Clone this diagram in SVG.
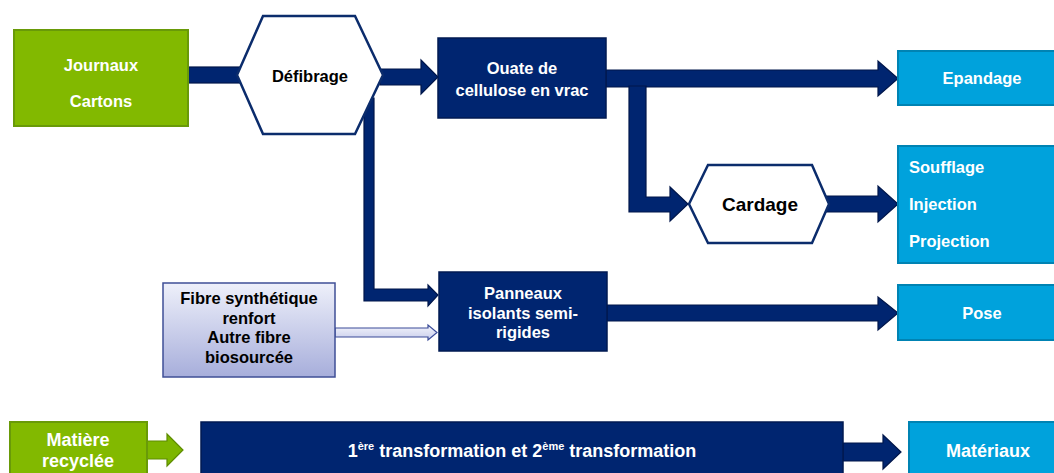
<svg xmlns="http://www.w3.org/2000/svg" width="1054" height="473" viewBox="0 0 1054 473">
<defs>
<linearGradient id="fibreGrad" x1="0" y1="0" x2="0" y2="1">
<stop offset="0" stop-color="#eef0fa"/>
<stop offset="1" stop-color="#a7aedb"/>
</linearGradient>
<linearGradient id="hollowGrad" x1="0" y1="0" x2="0" y2="1">
<stop offset="0" stop-color="#f4f5fc"/>
<stop offset="1" stop-color="#c8cdeb"/>
</linearGradient>
<style>
.t{font-family:"Liberation Sans",Arial,sans-serif;font-weight:bold;font-size:16.5px}
.w{fill:#ffffff}
.k{fill:#000000}
.navy{fill:#002570;stroke:#001a52;stroke-width:1.5}
.blue{fill:#00a2dc;stroke:#0083b3;stroke-width:2}
.green{fill:#82b900;stroke:#699a08;stroke-width:2}
.hex{fill:#ffffff;stroke:#0b2c6c;stroke-width:2.5}
.arr{fill:#002570;stroke:#00164a;stroke-width:1.2}
.garr{fill:#7db600;stroke:#5e8c00;stroke-width:1.2}
.harr{fill:url(#hollowGrad);stroke:#3a4b98;stroke-width:1.2}
</style>
</defs>
<rect width="1054" height="473" fill="#ffffff"/>

<g id="connectors">
<!-- Journaux -> Défibrage -->
<rect class="arr" x="188" y="67" width="52" height="16"/>
<!-- Défibrage -> Ouate -->
<path class="arr" d="M380,69 L421,69 L421,60 L438,77 L421,94 L421,85 L380,85 Z"/>
<!-- Défibrage -> Panneaux -->
<path class="arr" d="M364,98 L374,98 L374,289 L428,289 L428,285 L438,295 L428,306 L428,301 L364,301 Z"/>
<!-- Ouate -> Epandage -->
<path class="arr" d="M606,70 L878,70 L878,61 L898,78.5 L878,96 L878,87 L606,87 Z"/>
<!-- Ouate -> Cardage -->
<path class="arr" d="M629,86 L646,86 L646,197 L670,197 L670,187 L688,204 L670,221 L670,212 L629,212 Z"/>
<!-- Cardage -> Soufflage -->
<path class="arr" d="M826,196 L878,196 L878,186 L898,204 L878,222 L878,212 L826,212 Z"/>
<!-- Panneaux -> Pose -->
<path class="arr" d="M607,305 L878,305 L878,297 L898,313 L878,330 L878,321 L607,321 Z"/>
<!-- Fibre -> Panneaux (hollow) -->
<path class="harr" d="M335,328 L428,328 L428,325 L437,332.5 L428,340 L428,337 L335,337 Z"/>
<!-- Matière -> transformation -->
<path class="garr" d="M147,441 L167,441 L167,434 L183,450 L167,466 L167,459 L147,459 Z"/>
<!-- transformation -> Matériaux -->
<path class="arr" d="M843,443 L883,443 L883,435 L901,452 L883,469 L883,461 L843,461 Z"/>
</g>

<g id="journaux">
<rect class="green" x="14" y="30" width="174" height="96"/>
<text class="t w" x="101" y="71" text-anchor="middle">Journaux</text>
<text class="t w" x="101" y="107" text-anchor="middle">Cartons</text>
</g>

<g id="defibrage">
<polygon class="hex" points="237,75 263,16 355,16 383,75 355,134 263,134"/>
<text class="t k" x="310" y="82" text-anchor="middle">Défibrage</text>
</g>

<g id="ouate">
<rect class="navy" x="438" y="38" width="168" height="80"/>
<text class="t w" x="522" y="74" text-anchor="middle">Ouate de</text>
<text class="t w" x="522" y="96" text-anchor="middle">cellulose en vrac</text>
</g>

<g id="cardage">
<polygon class="hex" points="689,204 708,165 812,165 829,204 812,243 708,243"/>
<text class="t k" x="760" y="211" text-anchor="middle" style="font-size:19px">Cardage</text>
</g>

<g id="epandage">
<rect class="blue" x="898" y="51" width="160" height="54"/>
<text class="t w" x="982" y="84" text-anchor="middle">Epandage</text>
</g>

<g id="soufflage">
<rect class="blue" x="898" y="146" width="160" height="117"/>
<text class="t w" x="909" y="173">Soufflage</text>
<text class="t w" x="909" y="210">Injection</text>
<text class="t w" x="909" y="247">Projection</text>
</g>

<g id="panneaux">
<rect class="navy" x="439" y="272" width="168" height="79"/>
<text class="t w" x="523" y="299" text-anchor="middle">Panneaux</text>
<text class="t w" x="523" y="319" text-anchor="middle">isolants semi-</text>
<text class="t w" x="523" y="338" text-anchor="middle">rigides</text>
</g>

<g id="fibre">
<rect x="163" y="283" width="172" height="94" fill="url(#fibreGrad)" stroke="#3f4f96" stroke-width="1.5"/>
<text class="t k" x="249" y="304" text-anchor="middle">Fibre synthétique</text>
<text class="t k" x="249" y="324" text-anchor="middle">renfort</text>
<text class="t k" x="249" y="343" text-anchor="middle">Autre fibre</text>
<text class="t k" x="249" y="363" text-anchor="middle">biosourcée</text>
</g>

<g id="pose">
<rect class="blue" x="898" y="285" width="160" height="55"/>
<text class="t w" x="982" y="319" text-anchor="middle">Pose</text>
</g>

<g id="matiere">
<rect class="green" x="10" y="422" width="137" height="60"/>
<text class="t w" x="78" y="446" text-anchor="middle" style="font-size:18px">Matière</text>
<text class="t w" x="78" y="467" text-anchor="middle" style="font-size:18px">recyclée</text>
</g>

<g id="transformation">
<rect class="navy" x="201" y="422" width="642" height="60"/>
<text class="t w" x="522" y="457" text-anchor="middle" style="font-size:18px">1<tspan dy="-7" style="font-size:11px">ère</tspan><tspan dy="7"> transformation et 2</tspan><tspan dy="-7" style="font-size:11px">ème</tspan><tspan dy="7"> transformation</tspan></text>
</g>

<g id="materiaux">
<rect class="blue" x="909" y="422" width="150" height="60"/>
<text class="t w" x="988" y="457" text-anchor="middle" style="font-size:18px">Matériaux</text>
</g>
</svg>
